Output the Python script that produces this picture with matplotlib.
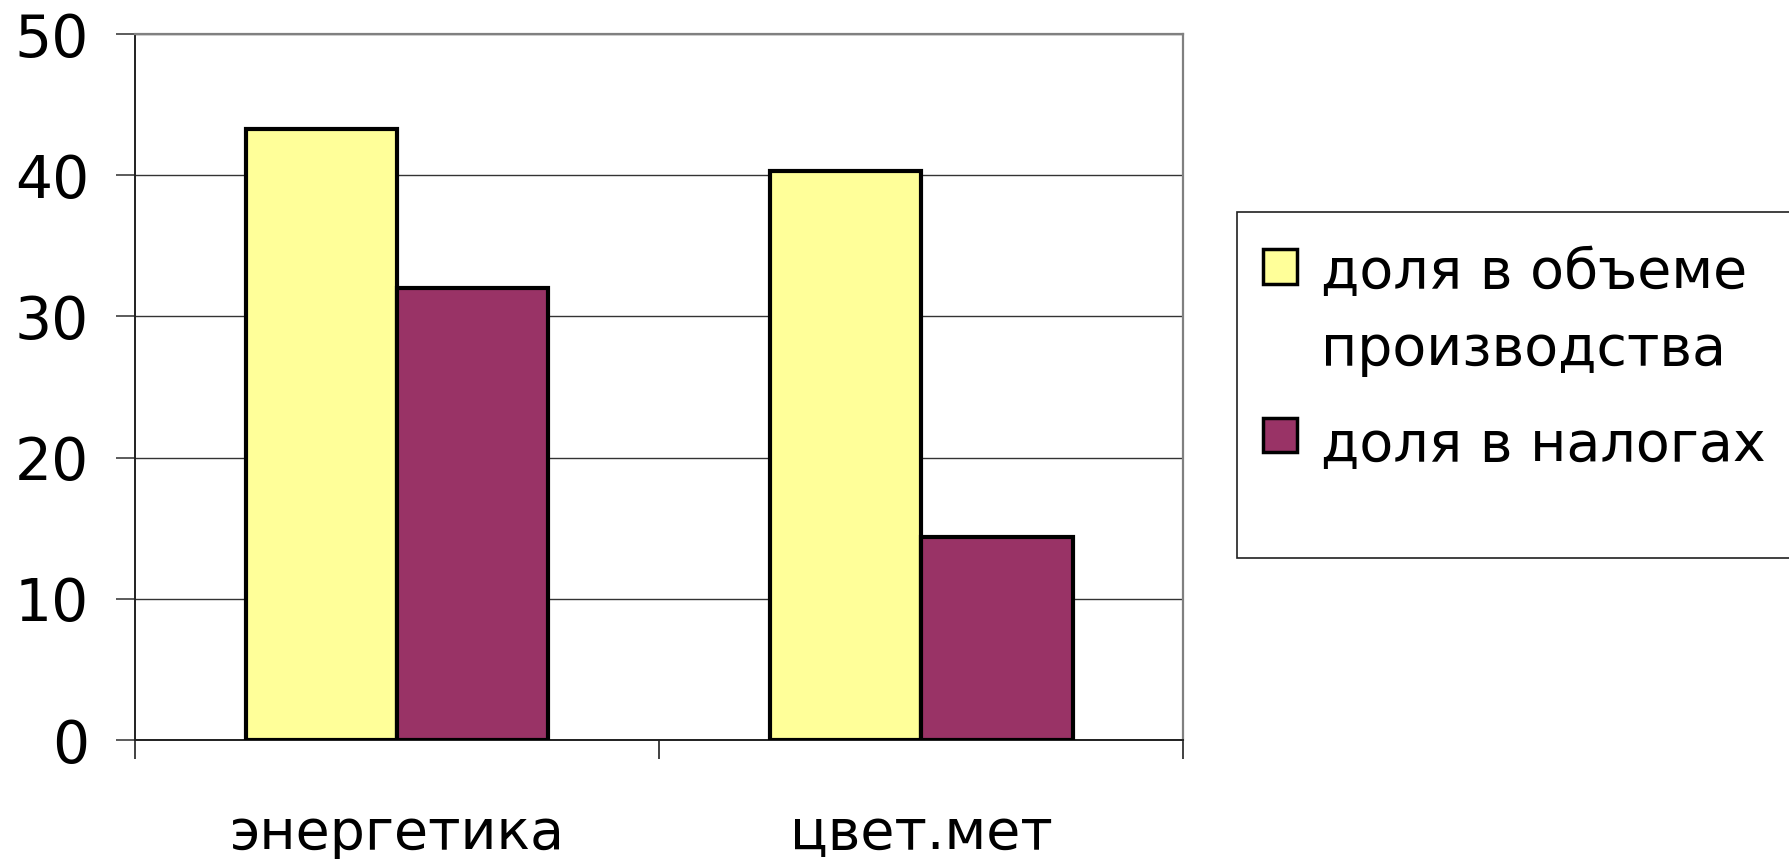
import matplotlib.pyplot as plt
from matplotlib.patches import Rectangle
import numpy as np

categories = ["энергетика", "цвет.мет"]
series_names = ["доля в объеме\nпроизводства", "доля в налогах"]
share_production = [43.3, 40.3]
share_taxes = [32.0, 14.4]
colors = ["#FFFF99", "#993366"]
y_ticks = [0, 10, 20, 30, 40, 50]

plt.rcParams["font.family"] = ["DejaVu Sans"]

fig = plt.figure(figsize=(17.9, 8.59), dpi=100)
ax = fig.add_axes([0.0754, 0.1385, 0.5856, 0.8219])

x = np.arange(len(categories))
width = 0.289
bars1 = ax.bar(x - width / 2, share_production, width, color=colors[0],
               edgecolor="black", linewidth=3.0, label=series_names[0], zorder=3)
bars2 = ax.bar(x + width / 2, share_taxes, width, color=colors[1],
               edgecolor="black", linewidth=3.0, label=series_names[1], zorder=3)

ax.set_xlim(-0.5, len(categories) - 0.5)
ax.set_ylim(0, 50)
ax.set_yticks(y_ticks)
ax.set_yticklabels([str(v) for v in y_ticks], fontsize=42)
ax.tick_params(axis="y", length=14, width=1.2, pad=19, color="#404040")

# category boundaries as major ticks, labels on minor ticks
ax.set_xticks(np.arange(-0.5, len(categories), 1.0))
ax.set_xticklabels([])
ax.set_xticks(x, minor=True)
ax.set_xticklabels(categories, minor=True, fontsize=40)
ax.tick_params(axis="x", which="major", length=14, width=1.2, color="#202020")
ax.tick_params(axis="x", which="minor", length=0, pad=48)

ax.yaxis.grid(True, color="#333333", linewidth=1.0)
ax.set_axisbelow(True)

for side in ["left", "bottom"]:
    ax.spines[side].set_color("#202020")
    ax.spines[side].set_linewidth(1.4)
for side in ["top", "right"]:
    ax.spines[side].set_color("#808080")
    ax.spines[side].set_linewidth(1.6)

# legend frame (extends past the right edge like the original)
fig.patches.append(Rectangle((0.691, 0.3504), 0.4, 0.4028, transform=fig.transFigure,
                             facecolor="white", edgecolor="#202020", linewidth=1.2,
                             zorder=0))

leg = fig.legend(handles=[bars1, bars2], loc="upper left",
                 bbox_to_anchor=(0.7056, 1 - 246 / 859), frameon=False,
                 fontsize=40, handlelength=0.62, handleheight=0.58,
                 handletextpad=0.42, labelspacing=0.75, borderpad=0,
                 borderaxespad=0)
for t in leg.get_texts():
    t.set_linespacing(1.55)
for h in leg.legend_handles:
    h.set_linewidth(2.5)

# put the first legend square next to the first line of its two-line label
fig.canvas.draw()
px2pt = 72 / fig.dpi
tb = leg.get_texts()[0].get_window_extent()
h0 = leg.legend_handles[0]
hb = h0.get_window_extent()
dy = (tb.y1 - tb.height / 4 + 12 - (hb.y0 + hb.y1) / 2) * px2pt
h0.set_y(h0.get_y() + dy)
h1 = leg.legend_handles[1]
h1.set_y(h1.get_y() + 6 * px2pt)

fig.savefig("out.png", dpi=100)
